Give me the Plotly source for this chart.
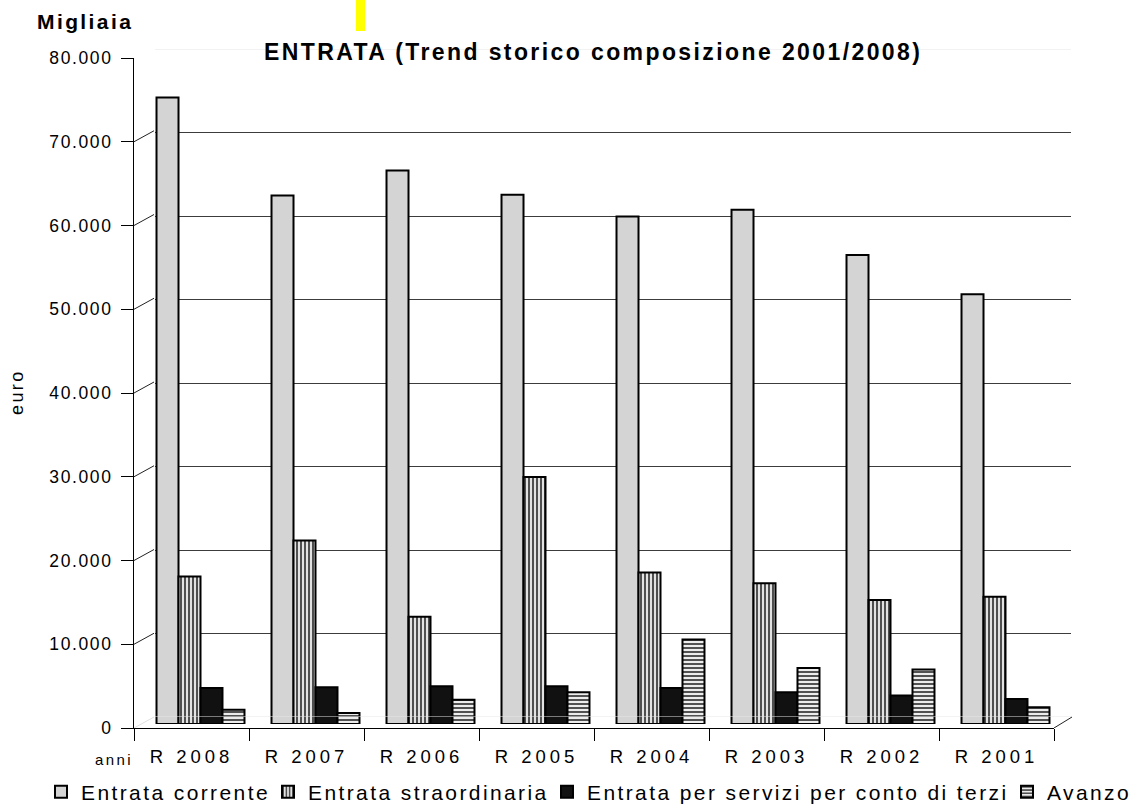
import plotly.graph_objects as go

# ---------------- data (euro) ----------------
categories = ["R 2008", "R 2007", "R 2006", "R 2005", "R 2004", "R 2003", "R 2002", "R 2001"]
entrata_corrente = [74800, 63100, 66100, 63200, 60600, 61400, 56000, 51300]
entrata_straordinaria = [17600, 21900, 12800, 29500, 18100, 16800, 14800, 15200]
entrata_servizi_terzi = [4300, 4400, 4500, 4500, 4300, 3800, 3400, 3000]
avanzo = [1700, 1300, 2900, 3800, 10100, 6700, 6500, 2000]
series_names = ["Entrata corrente", "Entrata straordinaria",
                "Entrata per servizi per conto di terzi", "Avanzo"]
y_ticks = list(range(0, 80001, 10000))

W, H = 1140, 810
FONT = "Liberation Sans"


def px(x):
    return x / W


def py(y):
    return 1 - y / H


fig = go.Figure()

# dummy trace so the back-wall subplot exists
fig.add_trace(go.Scatter(x=categories, y=[None] * len(categories), xaxis="x", yaxis="y",
                         showlegend=False, hoverinfo="skip"))

line_k = dict(color="black", width=2)
fig.add_trace(go.Bar(name=series_names[0], x=categories, y=entrata_corrente,
                     xaxis="x2", yaxis="y2", legend="legend",
                     marker=dict(color="#d4d4d4", line=line_k)))
fig.add_trace(go.Bar(name=series_names[1], x=categories, y=entrata_straordinaria,
                     xaxis="x2", yaxis="y2", legend="legend2",
                     marker=dict(color="#dcdcdc", line=line_k,
                                 pattern=dict(shape="|", fillmode="replace", fgcolor="#2a2a2a",
                                              bgcolor="#e2e2e2", size=4, solidity=0.4))))
fig.add_trace(go.Bar(name=series_names[2], x=categories, y=entrata_servizi_terzi,
                     xaxis="x2", yaxis="y2", legend="legend3",
                     marker=dict(color="#111111", line=line_k)))
fig.add_trace(go.Bar(name=series_names[3], x=categories, y=avanzo,
                     xaxis="x2", yaxis="y2", legend="legend4",
                     marker=dict(color="#e6e6e6", line=line_k,
                                 pattern=dict(shape="-", fillmode="replace", fgcolor="#2a2a2a",
                                              bgcolor="#ececec", size=4, solidity=0.4))))

# dummy trace so the front-axis subplot exists
fig.add_trace(go.Scatter(x=categories, y=[None] * len(categories), xaxis="x3", yaxis="y3",
                         showlegend=False, hoverinfo="skip"))

# front axis geometry (pixels) and the 3D depth offset of the back wall
FRONT_ZERO, FRONT_TOP = 728, 58
DEPTH_DX, DEPTH_DY = 20, 11
depth_units = DEPTH_DY / (FRONT_ZERO - FRONT_TOP) * 80000

shapes = []
# wall edges joining the front ticks to the back-wall gridlines
for v in y_ticks:
    faint = v in (0, 80000)
    shapes.append(dict(type="line", xref="paper", yref="y3",
                       x0=px(134), x1=px(134 + DEPTH_DX), y0=v, y1=v + depth_units,
                       line=dict(color="#e0e0e0" if faint else "#222222", width=1)))
# faint back lines at 0 and 80.000
for v in (0, 80000):
    shapes.append(dict(type="line", xref="x domain", yref="y", x0=0, x1=1, y0=v, y1=v,
                       line=dict(color="#e6e6e6", width=1)))
# right floor edge
shapes.append(dict(type="line", xref="paper", yref="y3",
                   x0=px(1054), x1=px(1054 + DEPTH_DX - 2), y0=0, y1=depth_units,
                   line=dict(color="#222222", width=1)))
# yellow marker at the top
shapes.append(dict(type="rect", xref="paper", yref="paper",
                   x0=px(356), x1=px(365), y0=py(31), y1=py(0),
                   fillcolor="#ffff00", line=dict(width=0)))

annotations = [
    dict(text="<b>ENTRATA (Trend storico composizione 2001/2008)</b>", x=px(262), y=py(52),
         xref="paper", yref="paper", xanchor="left", yanchor="middle", showarrow=False,
         font=dict(family=FONT, size=23, color="black")),
    dict(text="<b>Migliaia</b>", x=px(35), y=py(22), xref="paper", yref="paper",
         xanchor="left", yanchor="middle", showarrow=False,
         font=dict(family=FONT, size=21, color="black")),
    dict(text="euro", x=px(17), y=py(392), xref="paper", yref="paper", textangle=-90,
         xanchor="center", yanchor="middle", showarrow=False,
         font=dict(family=FONT, size=18, color="black")),
    dict(text="anni", x=px(113.5), y=py(759), xref="paper", yref="paper",
         xanchor="center", yanchor="middle", showarrow=False,
         font=dict(family=FONT, size=15, color="black")),
]


def legend_at(x_left):
    return dict(orientation="h", x=px(x_left), y=py(792), xanchor="left", yanchor="middle",
                font=dict(family=FONT, size=21, color="black"), itemwidth=30,
                bgcolor="rgba(0,0,0,0)")


fig.update_layout(
    width=W, height=H, autosize=False,
    margin=dict(l=0, r=0, t=0, b=0, pad=0, autoexpand=False),
    paper_bgcolor="white", plot_bgcolor="rgba(0,0,0,0)",
    separators=",.",
    barmode="group", bargap=0.235, bargroupgap=0,
    showlegend=True,
    legend=legend_at(41), legend2=legend_at(268), legend3=legend_at(547),
    legend4=legend_at(1007),
    # back wall gridlines
    xaxis=dict(domain=[px(134 + DEPTH_DX + 1), px(1054 + DEPTH_DX - 3)], anchor="y", visible=False,
               type="category", categoryorder="array", categoryarray=categories),
    yaxis=dict(domain=[py(717), py(49)], anchor="x", range=[0, 80000],
               tickvals=y_ticks[1:-1], showticklabels=False, ticks="", showline=False,
               zeroline=False, showgrid=True, gridcolor="#3c3c3c", gridwidth=1),
    # bars (at mid depth)
    xaxis2=dict(domain=[px(134 + 9), px(1054 + 9)], anchor="y2", visible=False,
                type="category", categoryorder="array", categoryarray=categories),
    yaxis2=dict(domain=[py(724), py(724 - (FRONT_ZERO - FRONT_TOP))], anchor="x2",
                range=[0, 80000], visible=False),
    # front axes
    xaxis3=dict(domain=[px(134), px(1054)], anchor="y3", type="category",
                categoryorder="array", categoryarray=categories, range=[-0.5, 7.5],
                tickson="boundaries", ticks="outside", ticklen=12, tickcolor="black",
                showline=True, linecolor="black", linewidth=1, showgrid=False,
                tickfont=dict(family=FONT, size=18.5, color="black"), ticklabelstandoff=12),
    yaxis3=dict(domain=[py(FRONT_ZERO), py(FRONT_TOP)], anchor="x3", range=[0, 80000],
                tickvals=y_ticks, tickformat=",.0f", ticks="outside", ticklen=12,
                tickcolor="black", showline=True, linecolor="black", linewidth=1,
                showgrid=False, zeroline=False,
                tickfont=dict(family=FONT, size=17.5, color="black"), ticklabelstandoff=5),
    shapes=shapes,
    annotations=annotations,
)

# page tweaks: no body margin, and the wide letter spacing of the original chart text
# (font sizes are nudged by 0.01 so plotly re-measures the spaced texts on the redraw)
post = """
document.body.style.margin='0';
document.body.style.overflow='hidden';
var st=document.createElement('style');
st.textContent='text{letter-spacing:2.4px}'+
  '.x3tick text{letter-spacing:4px}.y3tick text{letter-spacing:1.6px}';
document.head.appendChild(st);
var gd=document.getElementById('{plot_id}');
var lay=gd.layout;
['legend','legend2','legend3','legend4'].forEach(function(k){lay[k].font.size+=0.01;});
(lay.annotations||[]).forEach(function(a){a.font.size+=0.01;});
lay.xaxis3.tickfont.size+=0.01;
lay.yaxis3.tickfont.size+=0.01;
Plotly.newPlot(gd, gd.data, lay, {displayModeBar:false, staticPlot:true});
"""

fig.write_html("out.html", config={"displayModeBar": False}, post_script=post)
